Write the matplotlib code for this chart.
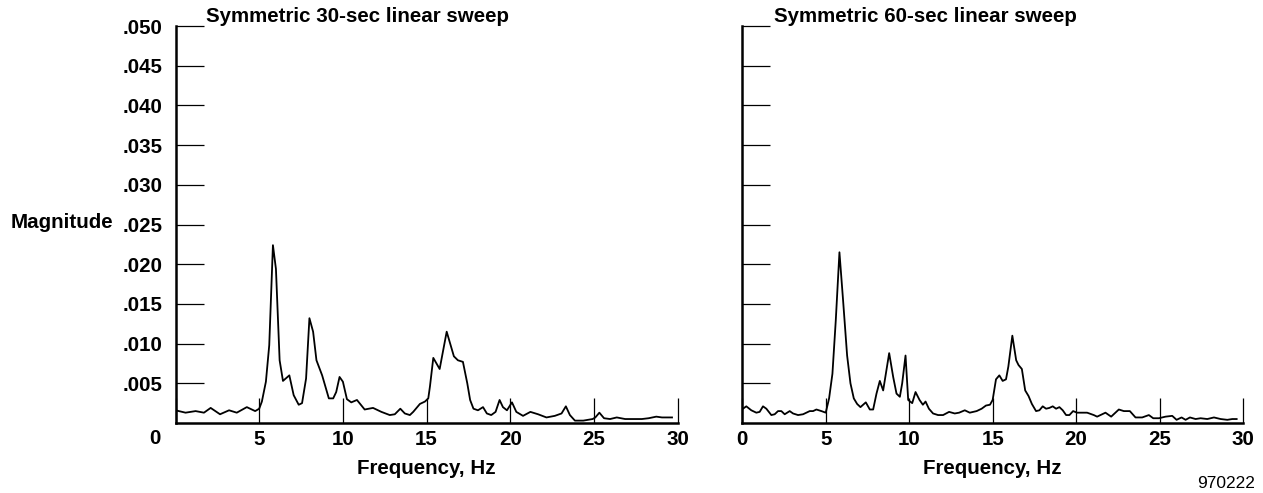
import matplotlib.pyplot as plt

# Frequency response, symmetric linear sweeps
freq_30 = [0.0, 0.6, 1.2, 1.7, 2.1, 2.66, 3.2, 3.66, 4.26, 4.76, 5.0, 5.16, 5.4, 5.6, 5.82,
           6.0, 6.22, 6.42, 6.8, 7.06, 7.36, 7.56, 7.8, 8.0, 8.22, 8.42, 8.76, 9.16, 9.42,
           9.6, 9.8, 10.0, 10.24, 10.5, 10.84, 11.3, 11.8, 12.3, 12.8, 13.1, 13.43, 13.7,
           14.0, 14.2, 14.6, 14.9, 15.1, 15.2, 15.4, 15.78, 16.2, 16.63, 16.87, 17.17,
           17.43, 17.6, 17.8, 18.07, 18.37, 18.6, 18.86, 19.12, 19.36, 19.56, 19.8, 20.1,
           20.36, 20.76, 21.2, 21.66, 22.16, 22.66, 23.06, 23.32, 23.56, 23.86, 24.36,
           24.92, 25.08, 25.32, 25.6, 25.96, 26.36, 26.86, 27.36, 27.86, 28.26, 28.72,
           29.06, 29.36, 29.66]
mag_30 = [0.0016, 0.0013, 0.0015, 0.0013, 0.0019, 0.0011, 0.0016, 0.0013, 0.0020, 0.0015,
          0.0018, 0.0027, 0.0052, 0.0098, 0.0224, 0.0194, 0.0079, 0.0053, 0.0060, 0.0035,
          0.0023, 0.0025, 0.0056, 0.0132, 0.0115, 0.0079, 0.0060, 0.0031, 0.0031, 0.0039,
          0.0058, 0.0052, 0.0030, 0.0026, 0.0029, 0.0017, 0.0019, 0.0014, 0.0010, 0.0011,
          0.0018, 0.0012, 0.0010, 0.0014, 0.0024, 0.0027, 0.0031, 0.0046, 0.0082, 0.0068,
          0.0115, 0.0084, 0.0079, 0.0077, 0.0050, 0.0029, 0.0018, 0.0016, 0.0020, 0.0012,
          0.0010, 0.0014, 0.0029, 0.0020, 0.0016, 0.0026, 0.0014, 0.0009, 0.0014, 0.0011,
          0.0007, 0.0009, 0.0012, 0.0021, 0.0010, 0.0003, 0.0003, 0.0005, 0.0007, 0.0013,
          0.0006, 0.0005, 0.0007, 0.0005, 0.0005, 0.0005, 0.0006, 0.0008, 0.0007, 0.0007,
          0.0007]

freq_60 = [0.04, 0.24, 0.54, 0.84, 1.04, 1.24, 1.44, 1.74, 1.94, 2.14, 2.34, 2.54, 2.84,
           3.04, 3.34, 3.64, 4.04, 4.24, 4.44, 4.74, 5.0, 5.2, 5.4, 5.6, 5.82, 6.04, 6.28,
           6.48, 6.68, 6.88, 7.08, 7.4, 7.64, 7.84, 8.04, 8.24, 8.44, 8.8, 9.04, 9.24, 9.44,
           9.58, 9.78, 9.94, 10.18, 10.38, 10.62, 10.82, 10.98, 11.18, 11.43, 11.73, 12.03,
           12.39, 12.73, 12.99, 13.33, 13.63, 14.04, 14.34, 14.6, 14.84, 15.0, 15.2, 15.4,
           15.6, 15.8, 15.94, 16.18, 16.41, 16.55, 16.75, 16.95, 17.15, 17.35, 17.6, 17.8,
           18.0, 18.2, 18.4, 18.6, 18.8, 19.0, 19.2, 19.4, 19.6, 19.82, 20.06, 20.66, 21.06,
           21.26, 21.76, 22.1, 22.56, 22.86, 23.22, 23.56, 23.96, 24.36, 24.62, 24.96,
           25.36, 25.76, 26.02, 26.32, 26.56, 26.82, 27.16, 27.46, 27.86, 28.26, 28.66,
           29.06, 29.36, 29.62]
mag_60 = [0.0018, 0.0021, 0.0016, 0.0013, 0.0014, 0.0021, 0.0018, 0.0010, 0.0011, 0.0015,
          0.0015, 0.0011, 0.0015, 0.0012, 0.0010, 0.0011, 0.0015, 0.0015, 0.0017, 0.0015,
          0.0013, 0.0031, 0.0062, 0.0129, 0.0215, 0.0154, 0.0085, 0.0050, 0.0031, 0.0024,
          0.0020, 0.0026, 0.0017, 0.0017, 0.0037, 0.0053, 0.0041, 0.0088, 0.0058, 0.0037,
          0.0033, 0.0050, 0.0085, 0.0029, 0.0025, 0.0039, 0.0029, 0.0023, 0.0027, 0.0018,
          0.0012, 0.0010, 0.0010, 0.0014, 0.0012, 0.0013, 0.0016, 0.0013, 0.0015, 0.0018,
          0.0022, 0.0023, 0.0029, 0.0055, 0.0060, 0.0053, 0.0055, 0.0071, 0.0110, 0.0079,
          0.0073, 0.0068, 0.0041, 0.0034, 0.0024, 0.0015, 0.0016, 0.0021, 0.0018, 0.0019,
          0.0021, 0.0018, 0.0020, 0.0016, 0.0010, 0.0010, 0.0015, 0.0013, 0.0013, 0.0010,
          0.0008, 0.0013, 0.0008, 0.0017, 0.0015, 0.0015, 0.0007, 0.0007, 0.0010, 0.0006,
          0.0006, 0.0008, 0.0009, 0.0004, 0.0007, 0.0004, 0.0007, 0.0005, 0.0006, 0.0005,
          0.0007, 0.0005, 0.0004, 0.0005, 0.0005]

y_ticks = [0.005, 0.010, 0.015, 0.020, 0.025, 0.030, 0.035, 0.040, 0.045, 0.050]
y_tick_labels = ['.005', '.010', '.015', '.020', '.025', '.030', '.035', '.040', '.045', '.050']
x_ticks = [0, 5, 10, 15, 20, 25, 30]
titles = ['Symmetric 30-sec linear sweep', 'Symmetric 60-sec linear sweep']

plt.rcParams['font.family'] = ['Liberation Sans', 'DejaVu Sans']
plt.rcParams['font.weight'] = 'bold'
FS = 14.8

W, H = 1263, 493
fig = plt.figure(figsize=(W / 100, H / 100), dpi=100)


def px_rect(x0, x1, y_top, y_bot):
    return [x0 / W, 1 - y_bot / H, (x1 - x0) / W, (y_bot - y_top) / H]


ax1 = fig.add_axes(px_rect(175.5, 677.7, 26, 423))
ax2 = fig.add_axes(px_rect(742.3, 1243, 26, 423))

for ax, f, m in [(ax1, freq_30, mag_30), (ax2, freq_60, mag_60)]:
    ax.plot(f, m, color='black', linewidth=1.3)
    ax.set_xlim(0, 30)
    ax.set_ylim(0, 0.05)
    for s in ['top', 'right']:
        ax.spines[s].set_visible(False)
    for s in ['left', 'bottom']:
        ax.spines[s].set_linewidth(1.8)
    ax.set_yticks(y_ticks)
    ax.set_xticks(x_ticks)
    ax.tick_params(axis='y', direction='in', length=20, width=0.9, pad=9.5, labelsize=FS)
    ax.tick_params(axis='x', direction='in', length=18, width=0.9, pad=5, labelsize=FS)
    ax.set_xlabel('Frequency, Hz', fontsize=FS, fontweight='bold', labelpad=7)

ax1.set_yticklabels(y_tick_labels)
ax1.set_xticklabels(['', '5', '10', '15', '20', '25', '30'])
ax2.set_yticklabels([])
ax2.set_xticklabels(['0', '5', '10', '15', '20', '25', '30'])

fig.text(155 / W, 1 - 438 / H, '0', ha='center', va='center', fontsize=FS)
fig.text(113 / W, 1 - 223 / H, 'Magnitude', ha='right', va='center', fontsize=FS)
fig.text(206 / W, 1 - 22 / H, titles[0], ha='left', va='baseline', fontsize=FS)
fig.text(774 / W, 1 - 22 / H, titles[1], ha='left', va='baseline', fontsize=FS)
fig.text(1255 / W, 1 - 483 / H, '970222', ha='right', va='center', fontsize=12.5,
         fontweight='normal')

fig.savefig('out.png', dpi=100)
